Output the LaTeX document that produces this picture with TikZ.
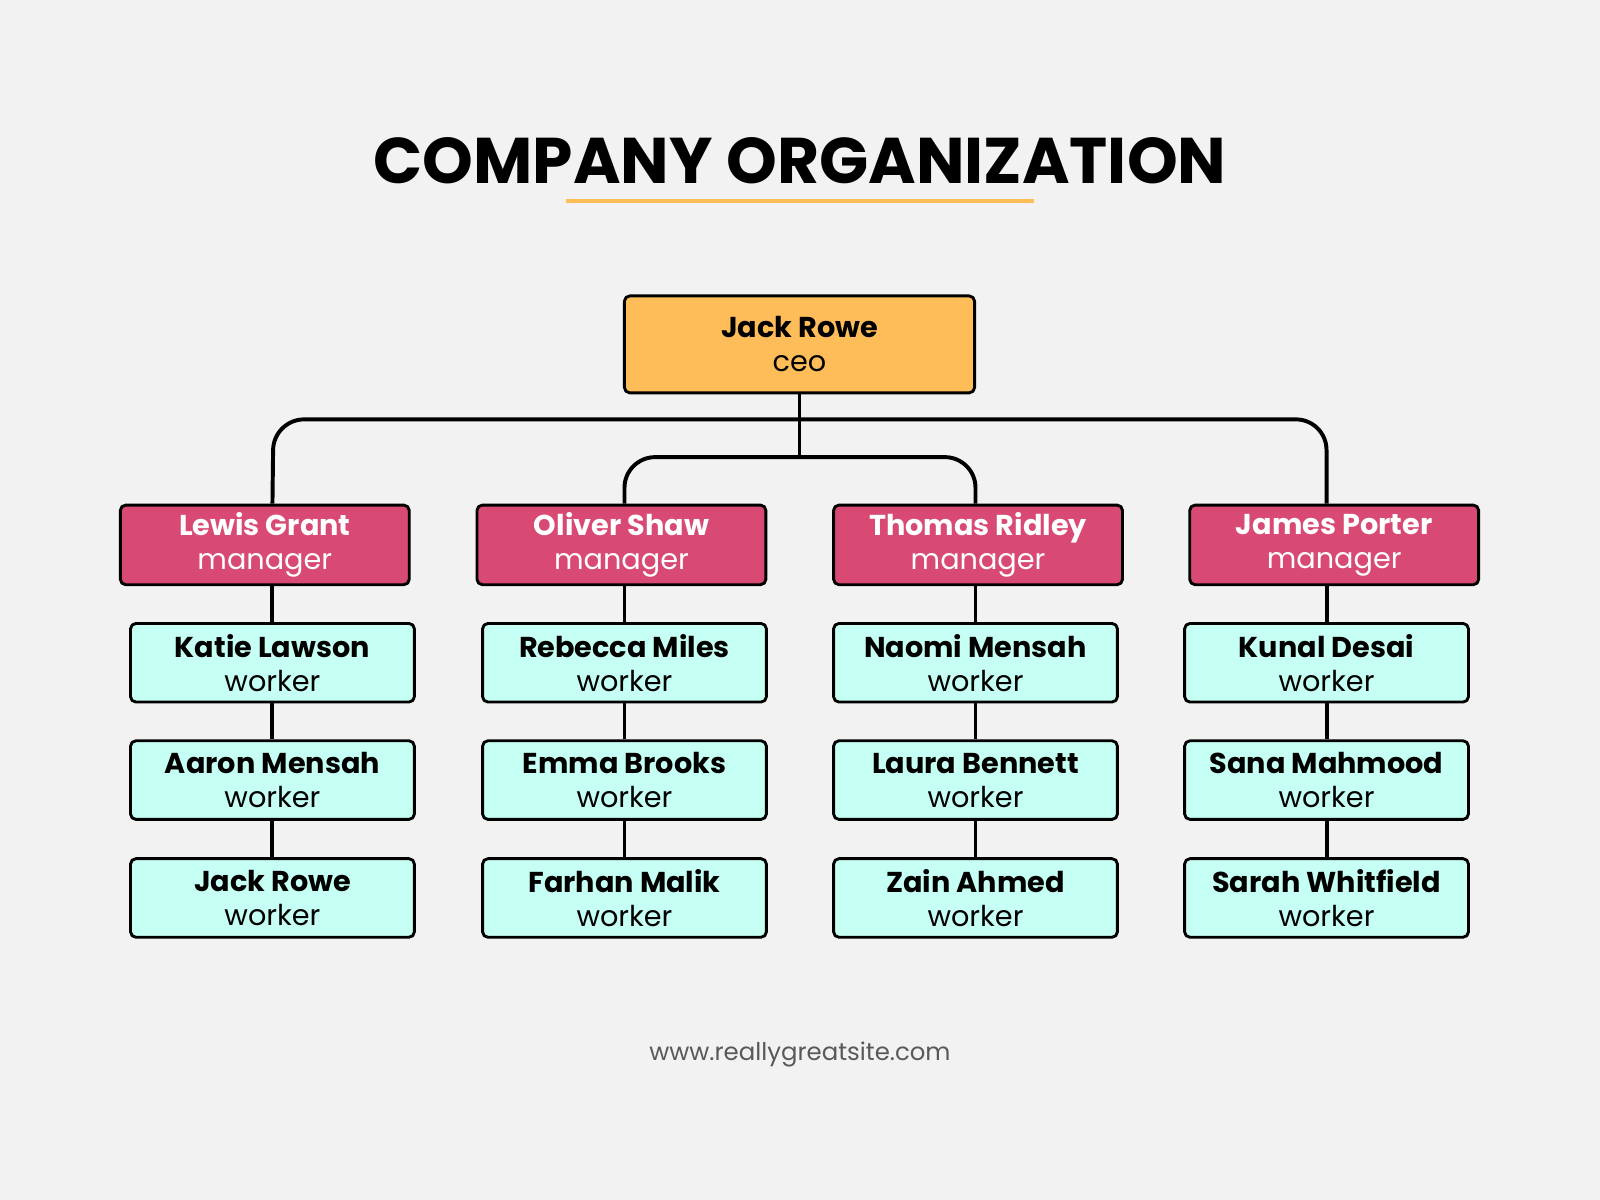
\documentclass[tikz,border=0pt]{standalone}
\usepackage{fontspec}
\setmainfont{Poppins}
\usetikzlibrary{positioning}
\definecolor{bgc}{HTML}{F2F2F2}
\definecolor{ceoc}{HTML}{FFBD59}
\definecolor{mgrc}{HTML}{D84A73}
\definecolor{wkc}{HTML}{C6FFF3}
\definecolor{linec}{HTML}{FFBD59}
\begin{document}
\begin{tikzpicture}[
    x=0.01cm, y=-0.01cm,
    line join=round,
    box/.style={draw=black, line width=0.8pt, rounded corners=1.5pt, align=center,
        inner sep=0pt, font=\fontsize{8}{9.5}\selectfont},
    ceo/.style={box, fill=ceoc, minimum width=3.43cm, minimum height=0.95cm},
    mgr/.style={box, fill=mgrc, text=white, minimum width=2.83cm, minimum height=0.78cm},
    wkr/.style={box, fill=wkc, minimum width=2.78cm, minimum height=0.77cm},
    link/.style={line width=1.1pt, rounded corners=0.3cm}
]

% --- Background ---
\fill[bgc] (0,0) rectangle (1568,1176);

% --- Title ---
\node[font=\bfseries\fontsize{18}{20}\selectfont] (title) at (784,158) {COMPANY ORGANIZATION};
\draw[linec, line width=1.2pt] (555,197) -- (1013,197);

% --- CEO ---
\node[ceo] (ceo) at (783.5,337.5) {\textbf{Jack Rowe}\\ ceo};

% --- Managers ---
\node[mgr] (m1) at (259.5,534) {\textbf{Lewis Grant}\\ manager};
\node[mgr] (m2) at (609,534) {\textbf{Oliver Shaw}\\ manager};
\node[mgr] (m3) at (958.5,534) {\textbf{Thomas Ridley}\\ manager};
\node[mgr] (m4) at (1307.5,534) {\textbf{James Porter}\\ manager};

% --- Workers ---
\foreach \col/\x/\a/\b/\c in {1/267/Katie Lawson/Aaron Mensah/Jack Rowe,
                              2/612/Rebecca Miles/Emma Brooks/Farhan Malik,
                              3/956/Naomi Mensah/Laura Bennett/Zain Ahmed,
                              4/1300/Kunal Desai/Sana Mahmood/Sarah Whitfield}{
    \node[wkr] (w\col a) at (\x,649.5) {\textbf{\a}\\ worker};
    \node[wkr] (w\col b) at (\x,764.5) {\textbf{\b}\\ worker};
    \node[wkr] (w\col c) at (\x,880) {\textbf{\c}\\ worker};
    \draw[line width=1.1pt] (w\col a) -- (w\col b);
    \draw[line width=1.1pt] (w\col b) -- (w\col c);
}

% --- Connectors ---
\coordinate (hub) at (783.5,448);
\draw[line width=1.1pt] (ceo) -- (hub);
\draw[link] (m1.north -| w1a) -- (268,411) -- (1300,411) -- (m4.north -| w4a);
\draw[link] (m2.north -| w2a) -- (612,448) -- (956,448) -- (m3.north -| w3a);
\foreach \i in {1,...,4}
    \draw[line width=1.1pt] (m\i.south -| w\i a) -- (w\i a);

% --- Footer ---
\node[text=black!65, font=\fontsize{6.8}{8}\selectfont] (site) at (784,1033) {www.reallygreatsite.com};

\end{tikzpicture}
\end{document}
